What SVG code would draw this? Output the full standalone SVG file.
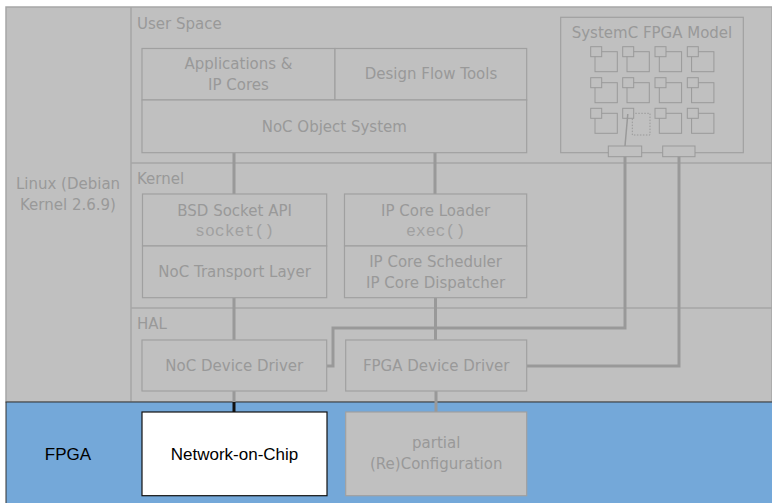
<svg xmlns="http://www.w3.org/2000/svg" xmlns:xlink="http://www.w3.org/1999/xlink" width="772" height="503" viewBox="0 0 772 503">
<style>
.t{font-family:"DejaVu Sans",sans-serif;font-size:15px;fill:#999;}
.m{font-family:"Liberation Mono",monospace;font-size:16.5px;fill:#a0a0a0;}
.k{font-family:"Liberation Sans",Arial,sans-serif;font-size:17px;fill:#000;}
.box{fill:#c0c0c0;stroke:#a0a0a0;stroke-width:1.2;}
.div{stroke:#a6a6a6;stroke-width:1.5;fill:none;}
.con{stroke:#999;stroke-width:3;fill:none;}
.cell{fill:#c0c0c0;stroke:#999;stroke-width:1;}
</style>
<defs>
<g id="cell">
<rect class="cell" x="4.3" y="5" width="22.3" height="20"/>
<rect class="cell" x="0" y="0" width="11" height="10"/>
</g>
</defs>
<g id="background">
<rect x="6" y="7" width="766" height="395" fill="#c0c0c0" stroke="#a6a6a6" stroke-width="1.5"/>
<line class="div" x1="131" y1="7" x2="131" y2="402"/>
<line class="div" x1="131" y1="163" x2="772" y2="163"/>
<line class="div" x1="131" y1="308" x2="772" y2="308"/>
<rect x="6" y="402" width="767" height="102" fill="#74a8d9" stroke="#333" stroke-width="1"/>
</g>
<g id="labels">
<text class="t" x="137" y="29">User Space</text>
<text class="t" x="137" y="184">Kernel</text>
<text class="t" x="137" y="329">HAL</text>
<text class="t" x="68" y="189" text-anchor="middle">Linux (Debian</text>
<text class="t" x="68" y="210" text-anchor="middle">Kernel 2.6.9)</text>
<text class="k" x="68" y="460" text-anchor="middle">FPGA</text>
</g>
<g id="connectors">
<line class="con" x1="234" y1="152" x2="234" y2="194"/>
<line class="con" x1="435" y1="152" x2="435" y2="194"/>
<line class="con" x1="234" y1="297" x2="234" y2="340"/>
<line class="con" x1="435.5" y1="297" x2="435.5" y2="340"/>
<line class="con" x1="234" y1="391" x2="234" y2="402"/>
<line x1="234" y1="402" x2="234" y2="412" stroke="#111" stroke-width="3"/>
<line class="con" x1="436" y1="391" x2="436" y2="412"/>
<polyline class="con" points="326.7,366 333,366 333,328 625,328 625,156"/>
<polyline class="con" points="526.7,366 679,366 679,156"/>
</g>
<g id="apps">
<rect class="box" x="142" y="48.5" width="193" height="51.5"/>
<text class="t" x="238.5" y="69" text-anchor="middle">Applications &amp;</text>
<text class="t" x="238.5" y="90" text-anchor="middle">IP Cores</text>
</g>
<g id="designflow">
<rect class="box" x="335" y="48.5" width="191.7" height="51.5"/>
<text class="t" x="431" y="79" text-anchor="middle">Design Flow Tools</text>
</g>
<g id="nocobject">
<rect class="box" x="142" y="100" width="384.7" height="52.7"/>
<text class="t" x="334.3" y="131.5" text-anchor="middle">NoC Object System</text>
</g>
<g id="bsd">
<rect class="box" x="142.5" y="194" width="184.2" height="52"/>
<text class="t" x="234.6" y="216" text-anchor="middle">BSD Socket API</text>
<text class="m" x="234.6" y="236" text-anchor="middle">socket()</text>
</g>
<g id="transport">
<rect class="box" x="142.5" y="246" width="184.2" height="51.7"/>
<text class="t" x="234.6" y="277" text-anchor="middle">NoC Transport Layer</text>
</g>
<g id="loader">
<rect class="box" x="344.5" y="194" width="182.2" height="52"/>
<text class="t" x="435.6" y="216" text-anchor="middle">IP Core Loader</text>
<text class="m" x="435.6" y="236" text-anchor="middle">exec()</text>
</g>
<g id="scheduler">
<rect class="box" x="344.5" y="246" width="182.2" height="51.7"/>
<text class="t" x="435.6" y="267" text-anchor="middle">IP Core Scheduler</text>
<text class="t" x="435.6" y="288" text-anchor="middle">IP Core Dispatcher</text>
</g>
<g id="nocdriver">
<rect class="box" x="142" y="340" width="184.7" height="51"/>
<text class="t" x="234.3" y="371" text-anchor="middle">NoC Device Driver</text>
</g>
<g id="fpgadriver">
<rect class="box" x="345.7" y="340" width="181" height="51"/>
<text class="t" x="436.2" y="371" text-anchor="middle">FPGA Device Driver</text>
</g>
<g id="noc">
<rect x="142" y="412" width="185" height="83.7" fill="#fff" stroke="#111" stroke-width="1.2"/>
<text class="k" x="234.5" y="460" text-anchor="middle">Network-on-Chip</text>
</g>
<g id="reconfig">
<rect class="box" x="345.7" y="412" width="181" height="83.7"/>
<text class="t" x="436.2" y="448" text-anchor="middle">partial</text>
<text class="t" x="436.2" y="469" text-anchor="middle">(Re)Configuration</text>
</g>
<g id="systemc">
<rect x="560.7" y="17.3" width="182.6" height="135.4" fill="#c0c0c0" stroke="#a0a0a0" stroke-width="1.2"/>
<text class="t" x="652" y="38" text-anchor="middle">SystemC FPGA Model</text>
<use xlink:href="#cell" x="590.7" y="46.7"/>
<use xlink:href="#cell" x="622.7" y="46.7"/>
<use xlink:href="#cell" x="655" y="46.7"/>
<use xlink:href="#cell" x="687.3" y="46.7"/>
<use xlink:href="#cell" x="590.7" y="77.7"/>
<use xlink:href="#cell" x="622.7" y="77.7"/>
<use xlink:href="#cell" x="655" y="77.7"/>
<use xlink:href="#cell" x="687.3" y="77.7"/>
<use xlink:href="#cell" x="590.7" y="108.3"/>
<use xlink:href="#cell" x="655" y="108.3"/>
<use xlink:href="#cell" x="687.3" y="108.3"/>
<rect x="632.3" y="113.3" width="17.7" height="21.7" fill="none" stroke="#999" stroke-width="1" stroke-dasharray="1.5,1.5"/>
<rect class="cell" x="622.7" y="108.3" width="11" height="10"/>
<line x1="627.8" y1="114" x2="625" y2="146" stroke="#999" stroke-width="1.5"/>
<rect class="cell" x="608.3" y="146" width="33.4" height="10.7"/>
<rect class="cell" x="662.7" y="146" width="32.3" height="10.7"/>
</g>
</svg>
